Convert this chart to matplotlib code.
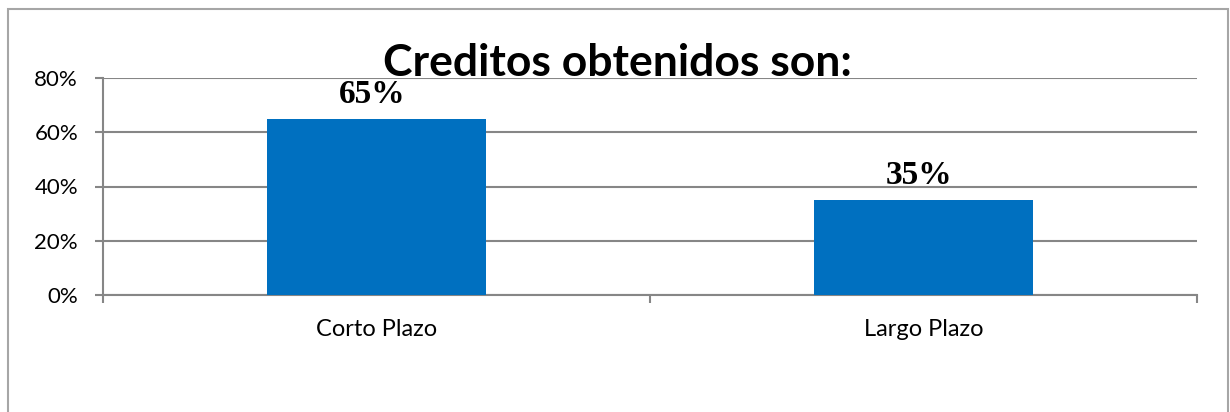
import matplotlib.pyplot as plt
from matplotlib.patches import Rectangle

categorias = ['Corto Plazo', 'Largo Plazo']
valores = [65, 35]
etiquetas = ['65%', '35%']
y_ticks = [0, 20, 40, 60, 80]

fig = plt.figure(figsize=(12.3, 4.12), dpi=100)
W, H = 1230, 412

# marco gris del grafico (el borde inferior queda fuera)
fig.patches.append(Rectangle((8 / W, -0.05), 1220 / W, 1.05 - 9 / H,
                             transform=fig.transFigure, fill=False,
                             edgecolor='#a6a6a6', lw=1.5))

ax = fig.add_axes([103 / W, 1 - 295 / H, 1094 / W, 217 / H])
x = list(range(len(categorias)))
ax.bar(x, valores, width=0.4, color='#0070C0', zorder=3)

ax.set_xlim(-0.5, len(categorias) - 0.5)
ax.set_ylim(0, 80)
ax.set_yticks(y_ticks)
ax.set_yticklabels([f'{v}%' for v in y_ticks], fontsize=16, family='Lato')
ax.yaxis.grid(True, color='#868686', lw=1.5, zorder=0)
ax.tick_params(axis='y', length=6, width=1.5, color='#868686', pad=12)

# categorias en el centro, marcas en los limites
ax.set_xticks([i - 0.5 for i in range(len(categorias) + 1)])
ax.set_xticklabels([])
ax.set_xticks(x, minor=True)
ax.set_xticklabels(categorias, minor=True, fontsize=17, family='Lato')
ax.tick_params(axis='x', which='major', length=6, width=1.5, color='#868686')
ax.tick_params(axis='x', which='minor', length=0, pad=17)

for s in ['top', 'right']:
    ax.spines[s].set_visible(False)
for s in ['left', 'bottom']:
    ax.spines[s].set_color('#868686')
    ax.spines[s].set_linewidth(1.5)

for xi, v, t in zip(x, valores, etiquetas):
    ax.annotate(t, (xi, v), xytext=(-3, 11.5), textcoords='offset points',
                ha='center', va='baseline', fontsize=24, fontweight='bold',
                family='Liberation Serif')

fig.text(617 / W, 1 - 76 / H, 'Creditos obtenidos son:', ha='center',
         va='baseline', fontsize=32, fontweight='bold', family='Lato')

fig.savefig('out.png', dpi=100)
